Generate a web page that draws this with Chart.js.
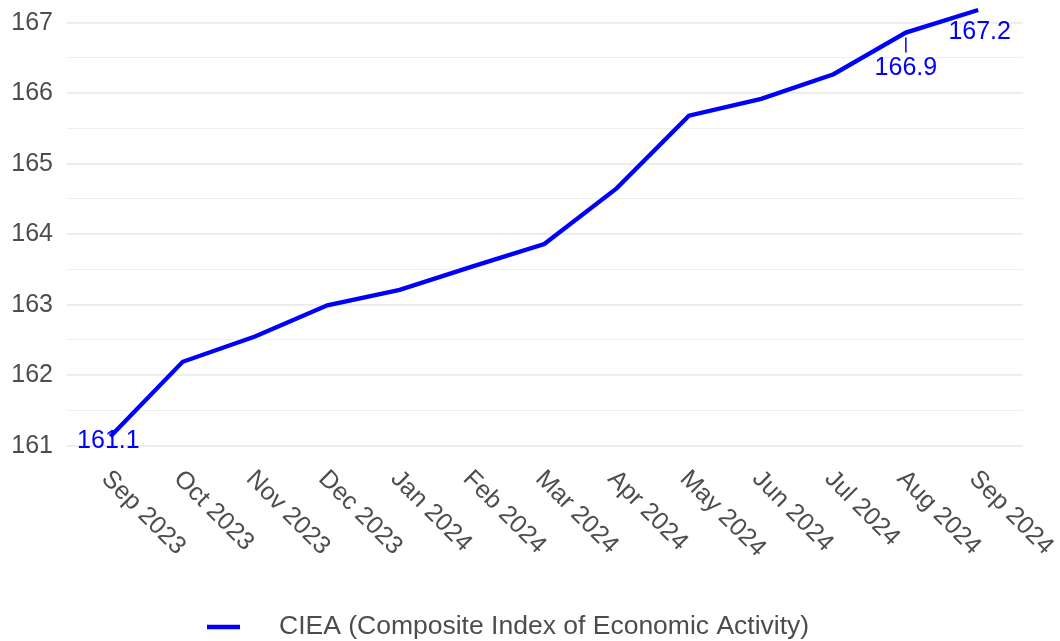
<!DOCTYPE html>
<html>
<head>
<meta charset="utf-8">
<script src="https://cdn.jsdelivr.net/npm/chart.js@4.4.0/dist/chart.umd.min.js"></script>
<style>
html,body{margin:0;padding:0;background:#ffffff;}
#c{display:block;}
</style>
</head>
<body>
<canvas id="c" width="1060" height="641"></canvas>
<script>
// ---- data ----
const categories = ['Sep 2023','Oct 2023','Nov 2023','Dec 2023','Jan 2024','Feb 2024','Mar 2024','Apr 2024','May 2024','Jun 2024','Jul 2024','Aug 2024','Sep 2024'];
const ciea = [161.13, 162.19, 162.55, 162.99, 163.21, 163.54, 163.86, 164.65, 165.68, 165.92, 166.27, 166.86, 167.18];
const yTickLabels = [161, 162, 163, 164, 165, 166, 167];
const seriesName = 'CIEA (Composite Index of Economic Activity)';
const labelledIndex = [0, 11, 12];
const labelText = ['161.1', '166.9', '167.2'];

// ---- styling ----
const FONT = "'Liberation Sans', Arial, Helvetica, sans-serif";
const GREY = '#4d4d4d';
const BLUE = '#0000ff';
// label placement (pixel offsets from the point), leader line flag
const labelPlacement = [
  {dx: -2, dy: 5, leader: false},
  {dx: 0, dy: 36, leader: true},
  {dx: 1.5, dy: 22.5, leader: false}
];

const points = ciea.map((v, i) => ({x: i, y: v}));

const decorPlugin = {
  id: 'decor',
  afterDatasetsDraw(chart) {
    const ctx = chart.ctx;
    const xs = chart.scales.x, ys = chart.scales.y;
    ctx.save();
    // rotated x labels
    ctx.fillStyle = GREY;
    ctx.font = '25px ' + FONT;
    ctx.textAlign = 'left';
    ctx.textBaseline = 'middle';
    categories.forEach((lab, i) => {
      const px = xs.getPixelForValue(i);
      ctx.save();
      ctx.translate(px - 5, 475);
      ctx.rotate(Math.PI / 4);
      ctx.fillText(lab, 0, 0);
      ctx.restore();
    });
    // data labels
    ctx.fillStyle = BLUE;
    ctx.strokeStyle = BLUE;
    ctx.textAlign = 'center';
    labelledIndex.forEach((idx, k) => {
      const px = xs.getPixelForValue(idx);
      const py = ys.getPixelForValue(ciea[idx]);
      const p = labelPlacement[k];
      if (p.leader) {
        ctx.lineWidth = 1.5;
        ctx.beginPath();
        ctx.moveTo(px, py + 5);
        ctx.lineTo(px, py + 20);
        ctx.stroke();
      }
      ctx.fillText(labelText[k], px + p.dx, py + p.dy);
    });
    // legend
    ctx.lineWidth = 4.5;
    ctx.beginPath();
    ctx.moveTo(207, 627);
    ctx.lineTo(240, 627);
    ctx.stroke();
    ctx.fillStyle = GREY;
    ctx.font = '26.5px ' + FONT;
    ctx.textAlign = 'left';
    ctx.fillText(seriesName, 279, 627);
    ctx.restore();
  }
};

new Chart(document.getElementById('c'), {
  type: 'line',
  data: {
    datasets: [{
      label: seriesName,
      data: points,
      borderColor: BLUE,
      backgroundColor: BLUE,
      borderWidth: 4.3,
      pointRadius: 0,
      tension: 0,
      fill: false
    }]
  },
  options: {
    responsive: false,
    animation: false,
    devicePixelRatio: 1,
    layout: {padding: {left: 0, right: 37, top: 3, bottom: 189.7}},
    plugins: {legend: {display: false}, tooltip: {enabled: false}},
    scales: {
      x: {
        type: 'linear',
        display: false,
        min: -0.6,
        max: 12.62
      },
      y: {
        type: 'linear',
        min: 160.92,
        max: 167.28,
        afterFit(s) { s.width = 67; s.paddingTop = 0; s.paddingBottom = 0; },
        border: {display: false},
        grid: {
          drawTicks: false,
          color: c => (Number.isInteger(c.tick && c.tick.value) ? '#ebebeb' : '#f0f0f0'),
          lineWidth: c => (Number.isInteger(c.tick && c.tick.value) ? 1.8 : 1)
        },
        ticks: {
          stepSize: 0.5,
          includeBounds: false,
          autoSkip: false,
          padding: 14,
          color: GREY,
          font: {family: FONT, size: 25},
          callback: v => (yTickLabels.includes(v) ? String(v) : '')
        }
      }
    }
  },
  plugins: [decorPlugin]
});
</script>
</body>
</html>
